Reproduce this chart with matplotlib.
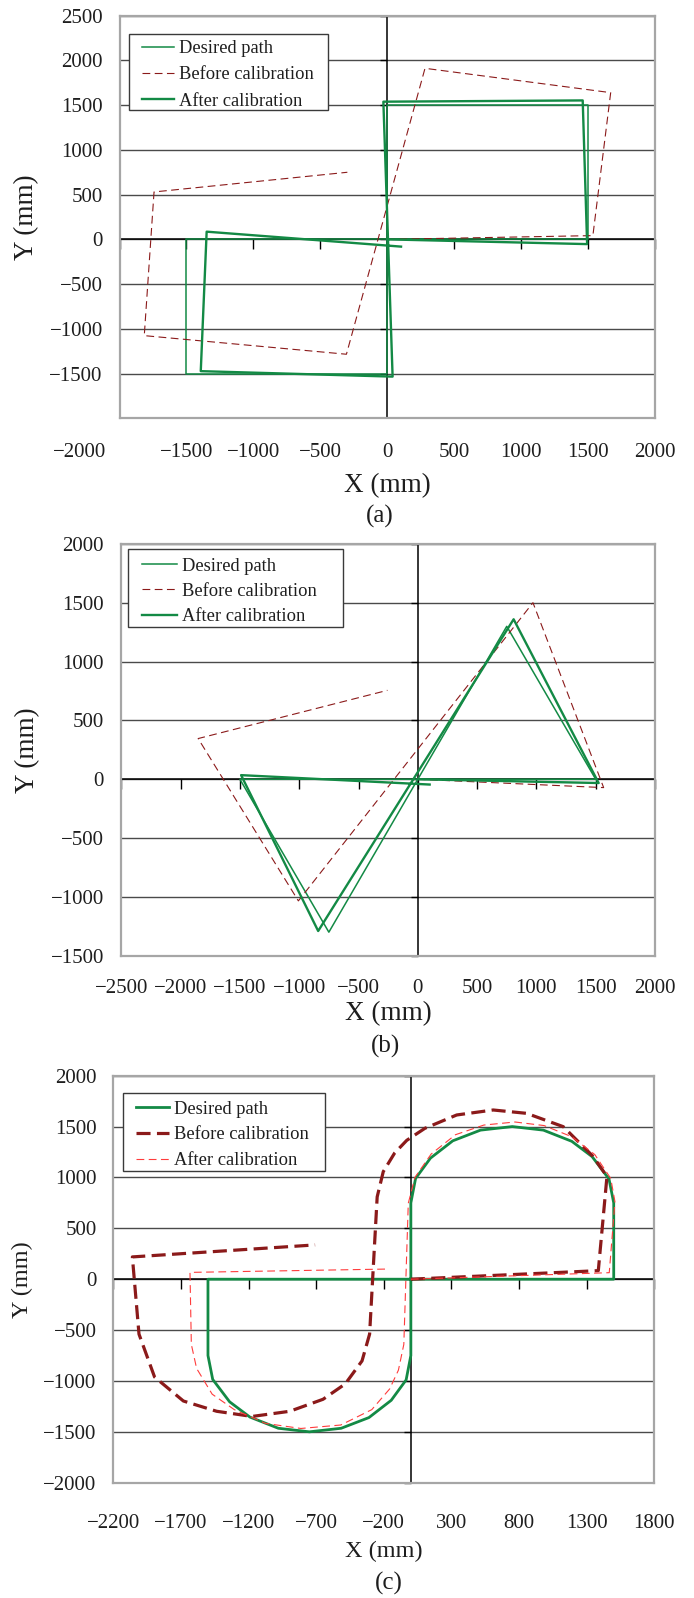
import matplotlib
matplotlib.use("Agg")
import matplotlib.pyplot as plt
import matplotlib.transforms as mtransforms
from matplotlib.patches import Rectangle
from matplotlib.ticker import FixedLocator, FuncFormatter

plt.rcParams['font.family'] = ['Liberation Serif', 'DejaVu Serif']
plt.rcParams['axes.unicode_minus'] = True

# ---------------- data ----------------
labels = ["Desired path", "Before calibration", "After calibration"]

# (a) square path
a_des_x = [0, 1500, 1500, 0, 0, -1500, -1500, 0]
a_des_y = [0, 0, 1500, 1500, -1500, -1500, 0, 0]
a_bef_x = [0, 1536, 1669, 282, -305, -1815, -1742, -298]
a_bef_y = [0, 42, 1640, 1912, -1284, -1076, 530, 750]
a_aft_x = [0, 1493, 1460, -29, 40, -1393, -1349, 103]
a_aft_y = [0, -53, 1553, 1539, -1534, -1473, 86, -81]
a_xticks = [-2000, -1500, -1000, -500, 0, 500, 1000, 1500, 2000]
a_yticks = [-1500, -1000, -500, 0, 500, 1000, 1500, 2000, 2500]

# (b) triangle path
b_des_x = [0, 1500, 750, -750, -1500, 0]
b_des_y = [0, 0, 1300, -1300, 0, 0]
b_bef_x = [0, 1567, 971, -1007, -1852, -256]
b_bef_y = [0, -71, 1501, -1034, 346, 756]
b_aft_x = [0, 1525, 808, -840, -1490, 100]
b_aft_y = [0, -32, 1360, -1290, 35, -45]
b_xticks = [-2500, -2000, -1500, -1000, -500, 0, 500, 1000, 1500, 2000]
b_yticks = [-1500, -1000, -500, 0, 500, 1000, 1500, 2000]

# (c) double semicircle path
c_des_x = [0, 1500, 1500, 1465, 1340, 1190, 980, 750, 515, 310, 145, 35, 0,
           0, -35, -145, -310, -515, -750, -980, -1190, -1340, -1465, -1500, -1500, 0]
c_des_y = [0, 0, 750, 985, 1205, 1355, 1465, 1500, 1465, 1360, 1190, 990, 750,
           -750, -990, -1190, -1360, -1465, -1500, -1465, -1355, -1205, -985, -750, 0, 0]
c_bef_x = [0, 1386, 1450, 1345, 1127, 856, 609, 339, 104, -30, -120, -204, -249,
           -305, -361, -485, -649, -895, -1174, -1436, -1682, -1895, -2010, -2059, -708]
c_bef_y = [0, 84, 1010, 1210, 1499, 1630, 1663, 1614, 1483, 1365, 1240, 1057, 809,
           -540, -803, -1029, -1180, -1298, -1349, -1298, -1197, -961, -540, 219, 337]
c_aft_x = [0, 1467, 1509, 1478, 1360, 1190, 985, 770, 540, 330, 150, 30, -19,
           -52, -92, -157, -289, -518, -813, -1075, -1305, -1469, -1584, -1623, -1633, -160]
c_aft_y = [0, 64, 762, 990, 1225, 1400, 1510, 1545, 1515, 1420, 1230, 1000, 746,
           -641, -894, -1079, -1282, -1433, -1467, -1417, -1282, -1130, -877, -641, 67, 100]
c_xticks = [-2200, -1700, -1200, -700, -200, 300, 800, 1300, 1800]
c_yticks = [-2000, -1500, -1000, -500, 0, 500, 1000, 1500, 2000]

GREEN = '#138a45'
DARKRED = '#8b1a1a'
LIGHTRED = '#ff3c3c'
GRID = '#4a4a4a'
FRAME = '#a6a6a6'
TXT = '#1e1e1e'

W, H = 694, 1598
fig = plt.figure(figsize=(W / 100, H / 100), dpi=100)


def px_axes(box):
    l, t, r, b = box
    return fig.add_axes([l / W, (H - b) / H, (r - l) / W, (b - t) / H])


def to_ax(box, x, y):
    l, t, r, b = box
    return (x - l) / (r - l), (b - y) / (b - t)


fmt = FuncFormatter(lambda v, p: f"{int(round(v))}".replace('-', '\u2212'))


def setup(ax, xlim, ylim, xticks, yticks, xpad, ypad):
    ax.set_xlim(*xlim)
    ax.set_ylim(*ylim)
    ax.xaxis.set_major_locator(FixedLocator(xticks))
    ax.yaxis.set_major_locator(FixedLocator(yticks))
    ax.xaxis.set_major_formatter(fmt)
    ax.yaxis.set_major_formatter(fmt)
    ax.tick_params(axis='x', length=0, pad=xpad, labelsize=15, labelcolor=TXT)
    ax.tick_params(axis='y', length=0, pad=ypad, labelsize=15, labelcolor=TXT)
    ax.yaxis.grid(True, color=GRID, lw=1.0)
    ax.xaxis.grid(False)
    ax.set_axisbelow(True)
    for s in ax.spines.values():
        s.set_color(FRAME)
        s.set_linewidth(1.6)
    ax.axhline(0, color='black', lw=1.1, zorder=1.5)
    ax.axvline(0, color='black', lw=1.1, zorder=1.5)
    ax.plot(xticks, [0] * len(xticks), ls='none', marker=3, ms=7, mew=1.0,
            color='black', zorder=1.6, clip_on=False)
    ax.plot([0] * len(yticks), yticks, ls='none', marker=0, ms=5, mew=1.0,
            color='black', zorder=1.6, clip_on=False)


def legend(ax, box, frame, handle_x, row1_y, hl, htp, ls, fs=13.3):
    # frame: (left, top, right, bottom) in figure pixels
    fx0, fy1 = to_ax(box, frame[0], frame[1])
    fx1, fy0 = to_ax(box, frame[2], frame[3])
    ax.add_patch(Rectangle((fx0, fy0), fx1 - fx0, fy1 - fy0, transform=ax.transAxes,
                           facecolor='white', edgecolor='#3a3a3a', lw=1.0, zorder=4.9,
                           clip_on=False))
    em = fs * 100 / 72
    ax_x, ax_y = to_ax(box, handle_x, row1_y - 0.5 * 1.02 * em)
    leg = ax.legend(loc='upper left', bbox_to_anchor=(ax_x, ax_y), borderaxespad=0,
                    fontsize=fs, handlelength=hl, handletextpad=htp,
                    borderpad=0, labelspacing=ls, frameon=False)
    leg.set_zorder(5)
    for t in leg.get_texts():
        t.set_color(TXT)
    return leg


def axis_labels(ax, box, xlab_y, ylab_x, fs):
    l, t, r, b = box
    ax.set_xlabel('X (mm)', fontsize=fs, color=TXT)
    ax.set_ylabel('Y (mm)', fontsize=fs, color=TXT)
    ax.xaxis.set_label_coords(0.5, (b - xlab_y) / (b - t))
    ax.xaxis.label.set_va('center')
    ax.yaxis.set_label_coords((ylab_x - l) / (r - l), 0.5)
    ax.yaxis.label.set_va('center')


# ---------------- panel (a) ----------------
box_a = (119.5, 15.7, 655, 418.3)
axa = px_axes(box_a)
setup(axa, (-2000, 2000), (-2000, 2500), a_xticks, a_yticks, 18.0, 12)
axa.plot(a_des_x, a_des_y, color=GREEN, lw=1.1, label=labels[0], zorder=3)
axa.plot(a_bef_x, a_bef_y, color=DARKRED, lw=0.8, dashes=(7, 4), label=labels[1], zorder=3)
axa.plot(a_aft_x, a_aft_y, color=GREEN, lw=1.7, label=labels[2], zorder=4)
legend(axa, box_a, (129, 34, 328.3, 110), 142, 49.5, 1.73, 0.28, 0.50)
axis_labels(axa, box_a, 486, 26.5, 19.5)
lab0 = axa.get_xticklabels()[0]
lab0.set_ha('right')
lab0.set_transform(lab0.get_transform() +
                   mtransforms.ScaledTranslation(-0.135, 0, fig.dpi_scale_trans))
fig.text(380 / W, 1 - 516 / H, '(a)', fontsize=18, ha='center', va='center', color=TXT)

# ---------------- panel (b) ----------------
box_b = (121.3, 544, 655, 955.7)
axb = px_axes(box_b)
setup(axb, (-2500, 2000), (-1500, 2000), b_xticks, b_yticks, 17.0, 12.5)
axb.plot(b_des_x, b_des_y, color=GREEN, lw=1.1, label=labels[0], zorder=3)
axb.plot(b_bef_x, b_bef_y, color=DARKRED, lw=0.8, dashes=(7, 4), label=labels[1], zorder=3)
axb.plot(b_aft_x, b_aft_y, color=GREEN, lw=1.7, label=labels[2], zorder=4)
legend(axb, box_b, (128.3, 549.3, 343, 627.4), 142, 567, 1.9, 0.25, 0.45)
axis_labels(axb, box_b, 1014, 27.4, 19.5)
fig.text(386 / W, 1 - 1046 / H, '(b)', fontsize=18, ha='center', va='center', color=TXT)

# ---------------- panel (c) ----------------
box_c = (113.3, 1075.7, 654.3, 1482.7)
axc = px_axes(box_c)
setup(axc, (-2200, 1800), (-2000, 2000), c_xticks, c_yticks, 22.5, 12)
axc.plot(c_des_x, c_des_y, color=GREEN, lw=2.0, label=labels[0], zorder=3)
axc.plot(c_bef_x, c_bef_y, color=DARKRED, lw=2.3, dashes=(4.4, 2.0), label=labels[1], zorder=3)
axc.plot(c_aft_x, c_aft_y, color=LIGHTRED, lw=0.8, dashes=(7, 4), label=labels[2], zorder=4)
legend(axc, box_c, (123.3, 1093, 325, 1170.7), 135.5, 1110, 1.84, 0.22, 0.48)
axis_labels(axc, box_c, 1551, 22, 17.5)
fig.text(389 / W, 1 - 1583 / H, '(c)', fontsize=18, ha='center', va='center', color=TXT)

fig.savefig('out.png', dpi=100, facecolor='white')
